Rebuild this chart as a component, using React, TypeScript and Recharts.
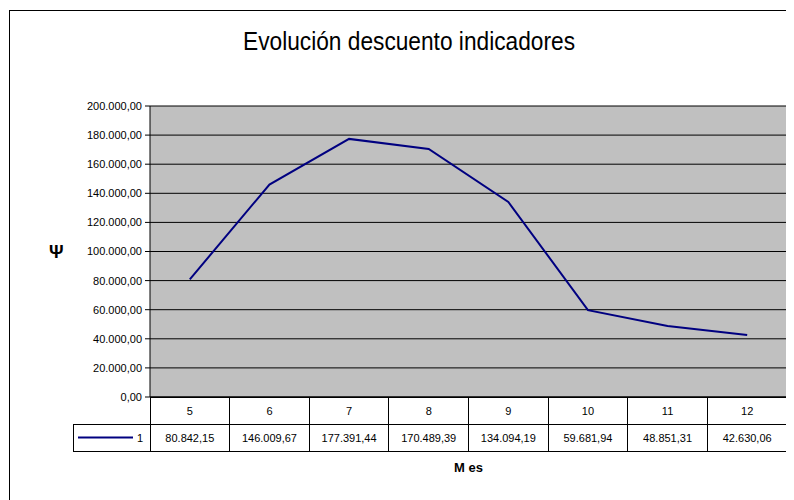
import { CartesianGrid, Line, LineChart, XAxis, YAxis } from "recharts";

const meses = ["5", "6", "7", "8", "9", "10", "11", "12"];
const descuento = [
  80842.15, 146009.67, 177391.44, 170489.39, 134094.19, 59681.94, 48851.31, 42630.06,
];
const yTicks = [0, 20000, 40000, 60000, 80000, 100000, 120000, 140000, 160000, 180000, 200000];
const serieNombre = "1";
const titulo = "Evolución descuento indicadores";

const data = meses.map((mes, i) => ({ mes, valor: descuento[i] }));

const FONT = "'Liberation Sans', Arial, sans-serif";
const LINE_COLOR = "#000080";
const PLOT_W = 637;
const CELL_W = PLOT_W / meses.length;
const ROW_H = 27;

function fmt(v: number) {
  const [ent, dec] = v.toFixed(2).split(".");
  return ent.replace(/\B(?=(\d{3})+(?!\d))/g, ".") + "," + dec;
}

// each x tick draws its column of the data table under the plot
function TableTick(props: any) {
  const { x, y, payload } = props;
  const row = data.find((d) => d.mes === payload.value);
  const left = x - CELL_W / 2;
  return (
    <g fontFamily={FONT} fontSize={11} fill="#000">
      <rect x={left} y={y} width={CELL_W} height={ROW_H} fill="#fff" stroke="#000" shapeRendering="crispEdges" />
      <rect x={left} y={y + ROW_H} width={CELL_W} height={ROW_H} fill="#fff" stroke="#000" shapeRendering="crispEdges" />
      <text x={x} y={y + ROW_H / 2 + 4} textAnchor="middle">
        {payload.value}
      </text>
      <text x={x} y={y + ROW_H * 1.5 + 4} textAnchor="middle">
        {row ? fmt(row.valor) : ""}
      </text>
      {payload.index === 0 && (
        <g>
          <rect x={left - 77} y={y + ROW_H} width={77} height={ROW_H} fill="#fff" stroke="#000" shapeRendering="crispEdges" />
          <line x1={left - 72} x2={left - 17} y1={y + ROW_H * 1.5} y2={y + ROW_H * 1.5} stroke={LINE_COLOR} strokeWidth={2} />
          <text x={left - 13} y={y + ROW_H * 1.5 + 4}>
            {serieNombre}
          </text>
        </g>
      )}
    </g>
  );
}

export default function App() {
  return (
    <div style={{ position: "relative", width: 786, height: 492, overflow: "hidden", background: "#fff" }}>
      <div
        style={{
          position: "absolute",
          left: 1,
          top: 2,
          width: 900,
          height: 900,
          border: "1px solid #000",
          pointerEvents: "none",
        }}
      />
      <svg width={786} height={60} style={{ position: "absolute", left: 0, top: 0 }}>
        <text
          x={401}
          y={42}
          textAnchor="middle"
          fontFamily={FONT}
          fontSize={26}
          textLength={332}
          lengthAdjust="spacingAndGlyphs"
          fill="#000"
        >
          {titulo}
        </text>
      </svg>
      <div style={{ position: "absolute", left: 0, top: 0 }}>
        <LineChart width={786} height={492} data={data} margin={{ top: 98, right: 7, left: 0, bottom: 23 }}>
          <CartesianGrid vertical={false} stroke="#000" fill="#C0C0C0" />
          <CartesianGrid
            horizontal={false}
            stroke="#808080"
            verticalCoordinatesGenerator={(p: any) => [p.offset.left + p.offset.width - 0.5]}
          />
          <XAxis
            dataKey="mes"
            padding={{ left: CELL_W / 2, right: CELL_W / 2 }}
            height={80}
            tickSize={0}
            tickMargin={0}
            tickLine={false}
            axisLine={{ stroke: "#000" }}
            interval={0}
            tick={<TableTick />}
            label={{
              value: "M es",
              position: "insideBottom",
              offset: 5,
              fontFamily: FONT,
              fontSize: 13,
              fontWeight: "bold",
              fill: "#000",
            }}
          />
          <YAxis
            width={142}
            domain={[0, 200000]}
            ticks={yTicks}
            interval={0}
            tickFormatter={fmt}
            tickSize={5}
            tickMargin={3}
            tick={{ fontFamily: FONT, fontSize: 11, fill: "#000" }}
            tickLine={{ stroke: "#000" }}
            axisLine={{ stroke: "#000" }}
            label={{
              value: "Ψ",
              position: "insideLeft",
              offset: 41,
              fontFamily: FONT,
              fontSize: 18,
              fontWeight: "bold",
              fill: "#000",
            }}
          />
          <Line
            type="linear"
            dataKey="valor"
            name={serieNombre}
            stroke={LINE_COLOR}
            strokeWidth={2}
            dot={false}
            activeDot={false}
            isAnimationActive={false}
          />
        </LineChart>
      </div>
    </div>
  );
}
